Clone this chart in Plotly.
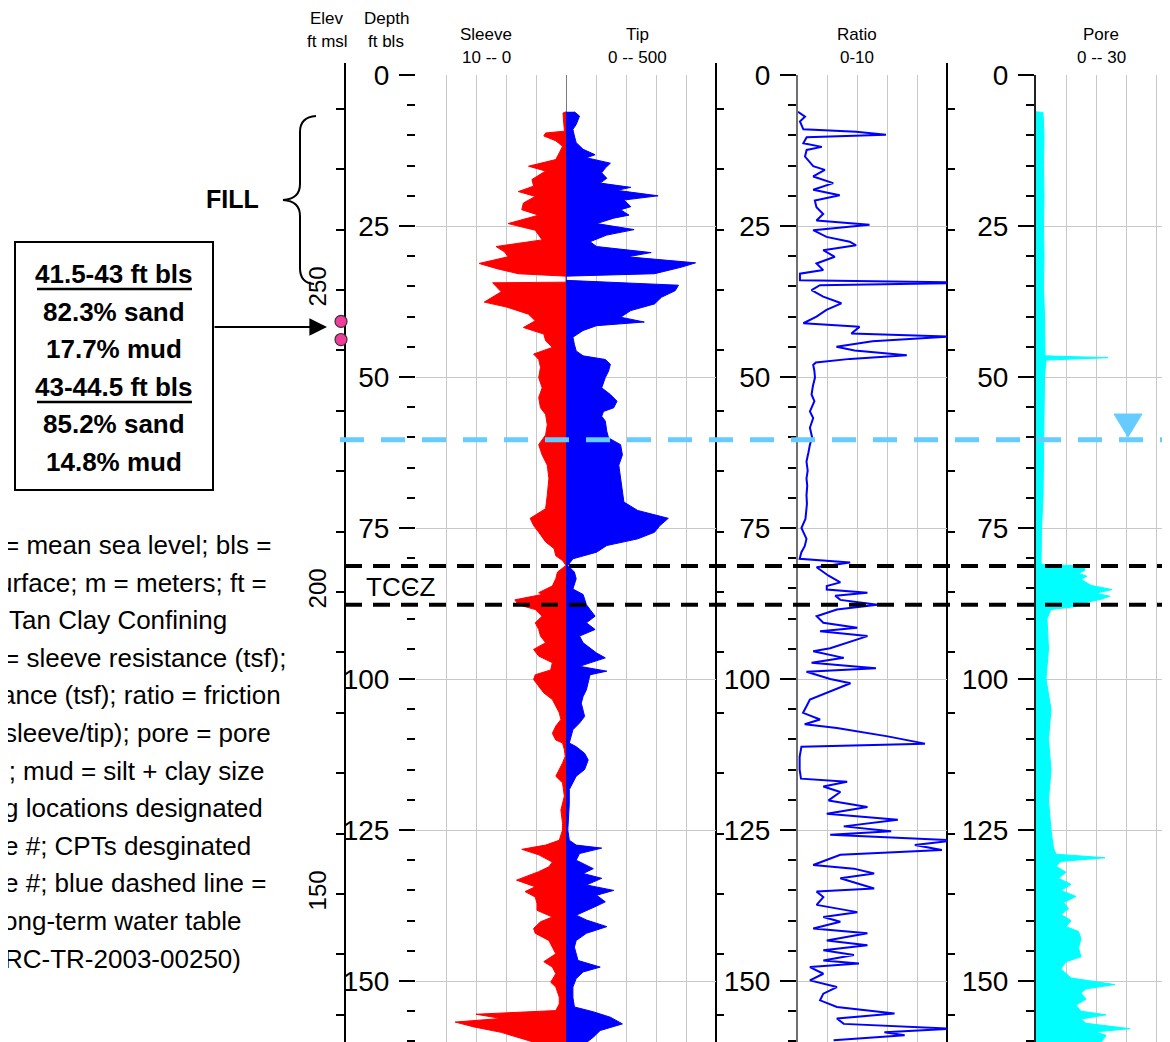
import plotly.graph_objects as go

# page body has an 8 px margin, so the figure is offset by (8, 8) in the screenshot
OX, OY = 8, 8
W, H = 1170 - OX, 1042 - OY

# ------------------------------------------------------------------ data
sleeve_depth = [6.1, 6.3, 8.0, 9.3, 9.6, 10.1, 10.9, 11.8, 12.9, 14.0, 15.1, 15.9, 17.3, 18.4, 19.3, 20.1,
                21.2, 22.3, 23.2, 24.6, 25.7, 27.3, 28.4, 29.3, 30.1, 31.2, 32.1, 32.9, 33.3, 34.3, 34.4,
                35.9, 37.6, 38.4, 39.6, 40.7, 41.8, 42.9, 44.0, 45.1, 46.2, 47.1, 48.4, 50.1, 51.8, 53.4,
                55.1, 56.2, 57.9, 59.6, 61.2, 62.9, 64.6, 66.8, 69.6, 71.8, 73.4, 74.6, 75.7, 77.3, 78.4,
                79.6, 80.4, 81.2, 82.3, 83.4, 84.6, 85.7, 86.0, 86.9, 87.7, 88.5, 89.6, 90.7, 91.8, 92.9,
                94.0, 95.1, 96.2, 97.3, 98.5, 99.3, 100.1, 101.2, 102.3, 103.4, 104.5, 105.6, 106.7, 107.8,
                109.0, 110.1, 110.6, 111.7, 112.8, 113.9, 116.1, 117.2, 119.4, 121.7, 123.9, 125.0, 126.7,
                127.5, 128.2, 129.1, 130.3, 131.1, 131.9, 133.3, 134.4, 135.2, 136.1, 137.2, 138.3, 139.4,
                140.2, 141.3, 142.1, 143.3, 144.4, 145.5, 146.8, 147.7, 148.8, 150.2, 151.0, 152.7, 153.8,
                154.9, 155.5, 156.2, 156.8, 157.6, 158.5, 159.3, 160.2]
sleeve_tsf = [0.0, 0.2, 0.15, 0.1, 1.36, 1.48, 0.68, 0.23, 0.45, 0.68, 2.5, 1.36, 2.27, 2.16, 3.18, 2.05,
              2.84, 2.95, 1.82, 3.86, 2.05, 1.59, 4.66, 4.09, 3.86, 5.8, 4.55, 3.18, 0.0, 0.0, 4.89,
              4.32, 5.45, 3.98, 2.5, 2.05, 2.84, 1.48, 1.36, 0.91, 2.16, 1.82, 1.7, 1.82, 1.59, 1.82,
              1.7, 1.36, 1.25, 1.36, 1.82, 1.59, 1.25, 1.14, 1.25, 1.36, 2.39, 2.16, 1.82, 1.36, 0.8,
              0.68, 0.23, 0.0, 0.57, 0.68, 0.91, 1.82, 1.59, 3.41, 3.18, 2.05, 1.59, 2.05, 1.82, 1.7,
              1.36, 2.16, 1.82, 0.91, 1.02, 2.05, 2.16, 1.82, 1.48, 0.91, 0.68, 0.45, 0.34, 0.68,
              0.91, 0.68, 0.23, 0.11, 0.05, 0.23, 0.68, 0.23, 0.11, 0.34, 0.23, 0.23, 0.45,
              1.36, 2.95, 1.82, 0.91, 1.14, 1.82, 3.3, 2.05, 2.73, 2.05, 1.93, 1.93, 0.91,
              1.7, 2.16, 2.05, 1.14, 0.91, 0.68, 1.48, 0.91, 0.68, 1.02, 0.68, 0.45, 0.45,
              0.68, 6.0, 4.32, 7.39, 6.14, 4.32, 3.18, 2.05]

tip_depth = [6.1, 6.8, 8.2, 9.0, 10.1, 11.2, 12.3, 13.2, 13.7, 14.6, 15.4, 16.2, 17.1, 17.9, 18.6, 19.1,
             20.0, 20.7, 21.8, 22.3, 23.2, 23.7, 24.6, 25.6, 26.5, 27.6, 28.4, 29.4, 30.1, 31.1, 31.8,
             32.9, 33.3, 34.0, 34.8, 35.7, 36.8, 37.9, 39.0, 40.1, 40.9, 41.5, 42.3, 43.4, 44.6, 45.7,
             46.5, 47.1, 47.9, 49.0, 50.1, 51.8, 52.9, 54.0, 55.1, 55.7, 56.5, 57.3, 59.0, 60.1, 61.2,
             62.9, 64.6, 66.8, 68.4, 70.7, 72.1, 73.4, 74.6, 75.7, 76.8, 77.9, 79.0, 80.1, 81.2, 82.3,
             83.4, 85.1, 86.0, 87.7, 88.5, 89.6, 90.7, 91.8, 92.9, 94.0, 95.7, 96.5, 97.9, 98.7, 99.3,
             100.7, 101.8, 102.9, 104.0, 106.2, 107.3, 108.4, 109.5, 110.6, 111.2, 112.3, 113.4, 115.0,
             116.1, 117.2, 118.3, 120.6, 123.9, 125.0, 126.7, 127.5, 128.0, 128.9, 130.0, 131.4, 132.2,
             133.0, 134.1, 135.0, 135.8, 136.9, 137.7, 139.1, 139.9, 141.0, 142.1, 143.3, 144.4, 145.5,
             146.6, 147.7, 148.5, 149.6, 151.0, 152.7, 154.3, 155.1, 156.0, 157.1, 158.2, 159.3, 160.2]
tip_tsf = [28, 45, 34, 23, 28, 34, 57, 97, 68, 148, 131, 119, 136, 114, 216, 170,
           307, 193, 216, 182, 210, 159, 102, 227, 136, 80, 102, 284, 205, 432, 386,
           295, 0, 0, 375, 364, 318, 295, 216, 182, 261, 102, 57, 23, 28, 34,
           57, 131, 148, 142, 131, 119, 148, 170, 159, 125, 119, 131, 136, 142, 182,
           188, 176, 182, 188, 193, 239, 341, 313, 295, 239, 136, 102, 23, 6, 28,
           34, 23, 57, 68, 80, 97, 68, 97, 45, 57, 102, 131, 45, 136, 80,
           74, 68, 57, 51, 62, 45, 23, 17, 11, 34, 62, 74, 62,
           34, 23, 11, 11, 6, 6, 11, 34, 119, 45, 34, 91, 57,
           119, 68, 159, 102, 131, 97, 34, 68, 136, 68, 34, 28, 34,
           40, 114, 57, 34, 23, 23, 28, 91, 148, 188, 114, 91, 68]

ratio_depth = [6.1, 6.9, 7.7, 9.0, 9.4, 9.9, 10.3, 11.3, 11.9, 12.4, 13.5, 15.1, 15.7, 16.8, 17.9, 19.0,
               19.9, 20.8, 21.9, 23.0, 24.1, 24.8, 25.7, 26.8, 27.6, 28.2, 29.0, 30.1, 31.2, 32.3, 32.9,
               34.0, 34.4, 34.8, 35.6, 36.7, 37.8, 38.9, 40.0, 41.1, 41.7, 42.8, 43.3, 44.1, 45.0, 45.6,
               46.4, 47.0, 47.6, 48.0, 49.0, 50.1, 51.5, 52.9, 54.0, 55.7, 56.8, 58.4, 60.0, 61.2, 62.5,
               64.0, 65.5, 66.8, 68.0, 69.6, 71.0, 72.3, 73.5, 75.0, 76.0, 76.8, 78.0, 79.0, 80.1, 80.7,
               81.5, 82.9, 84.0, 84.6, 85.2, 85.7, 86.2, 86.9, 87.7, 88.5, 89.6, 90.7, 91.5, 92.1, 92.9,
               93.8, 94.9, 95.4, 96.5, 97.3, 98.2, 98.8, 100.0, 100.7, 101.8, 103.4, 104.5, 105.6, 106.7,
               107.5, 108.1, 109.5, 110.7, 111.2, 112.9, 115.0, 116.5, 117.0, 117.8, 118.7, 120.1, 121.2,
               122.3, 123.3, 124.4, 125.2, 125.8, 126.7, 127.5, 128.3, 129.1, 130.0, 130.8, 131.4, 132.2,
               133.0, 133.8, 134.7, 135.2, 136.1, 137.4, 138.6, 139.4, 140.2, 141.3, 142.1, 143.3, 144.1,
               144.9, 145.7, 146.6, 147.1, 147.7, 148.8, 149.9, 151.0, 152.1, 153.2, 154.3, 155.4, 156.2,
               157.1, 157.9, 158.5, 159.0, 159.8]
ratio_pct = [0.0, 0.47, 0.13, 0.36, 3.9, 5.9, 0.58, 0.36, 1.6, 0.58, 0.47, 1.02, 1.8, 1.02, 2.36, 1.02,
             2.8, 1.13, 1.24, 1.69, 1.24, 4.8, 1.02, 1.91, 3.47, 3.9, 1.69, 2.47, 1.24, 1.69, 0.13,
             0.13, 12.0, 1.47, 0.91, 1.69, 2.91, 1.91, 1.24, 0.36, 4.13, 3.58, 10.3, 5.0, 2.58, 3.8,
             7.3, 3.5, 1.2, 1.02, 1.1, 1.14, 1.0, 0.91, 1.1, 0.8, 1.02, 0.8, 0.95, 0.8, 0.7,
             0.57, 0.65, 0.57, 0.62, 0.57, 0.6, 0.57, 0.5, 0.23, 0.45, 0.57, 0.45, 0.23, 0.11, 3.5,
             1.25, 2.05, 2.84, 1.93, 1.93, 4.66, 2.5, 2.84, 5.34, 2.61, 1.25, 1.7, 3.98, 1.48, 4.66,
             3.52, 2.16, 1.02, 3.07, 0.91, 5.23, 0.57, 2.16, 3.52, 2.39, 0.8, 0.57, 0.34, 1.48,
             0.45, 2.61, 6.02, 8.52, 0.23, 0.11, 0.11, 0.2, 3.3, 1.7, 2.84, 2.05, 4.66,
             1.93, 6.7, 3.07, 6.25, 2.16, 10.5, 7.84, 9.66, 2.84, 1.93, 1.02, 3.75, 5.11,
             2.84, 3.98, 5.11, 1.25, 1.7, 1.25, 3.98, 1.7, 2.84, 1.02, 4.66, 1.93, 4.66,
             1.7, 3.75, 1.7, 4.09, 0.8, 1.7, 0.8, 2.61, 1.7, 1.48, 2.61, 6.48, 2.61,
             3.07, 10.5, 5.8, 7.16, 2.39]

pore_depth = [6.1, 6.2, 10, 15, 20, 25, 30, 35, 40, 46.5, 46.8, 47.2, 50, 55, 60, 65, 70, 75, 80, 81.0,
              81.3, 82.0, 82.5, 83.0, 83.5, 84.0, 84.5, 85.2, 85.8, 86.3, 86.8, 87.5, 88.0, 88.5, 90,
              95, 100, 105, 110, 115, 120, 125, 128, 129.0, 129.6, 130.2, 131, 132, 133, 134, 135, 136,
              137, 138, 139, 140, 141, 141.8, 143, 144.5, 146, 146.8, 148, 149.5, 150.6, 151.3, 152,
              153, 154, 155, 155.6, 156.3, 157, 157.9, 158.4, 159, 160.2]
pore_tsf = [0, 1.4, 1.6, 1.5, 1.6, 1.5, 1.6, 1.5, 1.7, 1.8, 14.4, 2.0, 1.7, 1.6, 1.6, 1.5, 1.4, 1.1, 1.0, 1.0,
            9.5, 9.8, 8.5, 10.2, 9.0, 10.0, 11.0, 15.2, 12.0, 14.8, 13.0, 9.0, 8.1, 3.0, 2.2,
            2.5, 2.0, 3.0, 2.5, 3.0, 2.5, 3.0, 3.5, 4.0, 13.8, 5.0, 4.0, 6.0, 4.5, 7.0, 5.0, 8.0,
            5.5, 6.5, 5.0, 7.0, 6.0, 8.5, 9.0, 8.5, 9.0, 6.0, 5.0, 7.0, 15.8, 10.0, 9.0,
            10.0, 8.0, 9.0, 14.0, 9.0, 10.0, 18.8, 12.0, 14.0, 13.0]

GROUND_ELEV = 285.6          # ft msl at 0 ft bls
WATER_TABLE_DEPTH = 60.4     # ft bls
TCCZ_TOP, TCCZ_BASE = 81.3, 87.7
SAMPLE_DEPTHS = [40.8, 43.8]
DEPTH_MAX = 160.1
ELEV_LABELS = [250, 200, 150]

box_lines = ["41.5-43 ft bls", "82.3% sand", "17.7% mud", "43-44.5 ft bls", "85.2% sand", "14.8% mud"]
note_lines = ["= mean sea level; bls =", "urface; m = meters; ft =", "Tan Clay Confining",
              "= sleeve resistance (tsf);", "ance (tsf); ratio = friction", "sleeve/tip); pore = pore",
              "); mud = silt + clay size", "g locations designated", "e #; CPTs desginated",
              "e #; blue dashed line =", "ong-term water table", "RC-TR-2003-00250)"]

# ------------------------------------------------------------------ helpers (screen px -> paper)
def px(x):
    return (x - OX) / W


def py(y):
    return 1 - (y - OY) / H


SANS = "Liberation Sans, Arial, sans-serif"
GRID = "#c8c8c8"
Y_TOP = py(75)
ydom = [max(0.0, py(1042)), Y_TOP]

fig = go.Figure()

fig.add_trace(go.Scatter(x=sleeve_tsf, y=sleeve_depth, xaxis="x", yaxis="y", mode="lines",
                         fill="tozerox", fillcolor="#ff0000", line=dict(color="#ff0000", width=1),
                         hoverinfo="skip", showlegend=False))
fig.add_trace(go.Scatter(x=tip_tsf, y=tip_depth, xaxis="x2", yaxis="y", mode="lines",
                         fill="tozerox", fillcolor="#0000ff", line=dict(color="#0000ff", width=1),
                         hoverinfo="skip", showlegend=False))
fig.add_trace(go.Scatter(x=ratio_pct, y=ratio_depth, xaxis="x3", yaxis="y2", mode="lines",
                         line=dict(color="#0000ff", width=2), hoverinfo="skip", showlegend=False))
fig.add_trace(go.Scatter(x=pore_tsf, y=pore_depth, xaxis="x4", yaxis="y3", mode="lines",
                         fill="tozerox", fillcolor="#00ffff", line=dict(color="#00ffff", width=1),
                         hoverinfo="skip", showlegend=False))
# invisible carriers so that the elevation axes are drawn
sample_elev = [GROUND_ELEV - d for d in SAMPLE_DEPTHS]
for ya in ("y4", "y5", "y6"):
    fig.add_trace(go.Scatter(x=[0, 0], y=sample_elev, xaxis="x", yaxis=ya, mode="markers",
                             marker=dict(opacity=0, size=1), hoverinfo="skip", showlegend=False))

xcommon = dict(showgrid=True, gridcolor=GRID, gridwidth=1, showticklabels=False, ticks="",
               zeroline=False, showline=False, fixedrange=True)
pore_max = 30 * (1170 - 1036) / 150.0
fig.update_layout(
    xaxis=dict(domain=[px(416), px(566)], range=[10, 0], dtick=2, anchor="y", **xcommon),
    xaxis2=dict(domain=[px(566), px(716)], range=[0, 500], dtick=100, anchor="y", **xcommon),
    xaxis3=dict(domain=[px(798), px(947)], range=[0, 10], dtick=2, anchor="y2", **xcommon),
    xaxis4=dict(domain=[px(1036), 1.0], range=[0, pore_max], dtick=6, anchor="y3", **xcommon),
)

ycommon = dict(domain=ydom, range=[DEPTH_MAX, 0], tickvals=[0, 25, 50, 75, 100, 125, 150],
               showgrid=True, gridcolor=GRID, gridwidth=1, zeroline=False,
               ticks="outside", ticklen=16, tickwidth=2, tickcolor="black",
               ticklabelstandoff=4,
               tickfont=dict(family=SANS, size=28, color="black"),
               minor=dict(dtick=5, ticks="outside", ticklen=8, tickwidth=2, tickcolor="black",
                          showgrid=False),
               fixedrange=True)
fig.update_layout(
    yaxis=dict(anchor="x", showline=False, **ycommon),
    yaxis2=dict(anchor="x3", showline=True, linecolor="#707070", linewidth=2, **ycommon),
    yaxis3=dict(anchor="x4", showline=True, linecolor="#222222", linewidth=2, **ycommon),
)

elev_range = [GROUND_ELEV - DEPTH_MAX, GROUND_ELEV]
elev_ticks = list(range(130, 290, 10))
elev_text = [str(v) if v in ELEV_LABELS else "" for v in elev_ticks]
fig.update_layout(
    yaxis4=dict(overlaying="y", anchor="free", position=px(345), side="left", range=elev_range,
                tickvals=elev_ticks, ticktext=elev_text, tickangle=-90, ticks="outside", ticklen=8,
                tickwidth=2, tickcolor="black", showgrid=False, zeroline=False, showline=True,
                linecolor="black", linewidth=2, tickfont=dict(family=SANS, size=24, color="black"),
                fixedrange=True),
    yaxis5=dict(overlaying="y", anchor="free", position=px(716), side="right", range=elev_range,
                tickvals=elev_ticks, showticklabels=False, ticks="outside", ticklen=7, tickwidth=2,
                tickcolor="black", showgrid=False, zeroline=False, showline=True, linecolor="black",
                linewidth=2, fixedrange=True),
    yaxis6=dict(overlaying="y", anchor="free", position=px(947), side="right", range=elev_range,
                tickvals=elev_ticks, showticklabels=False, ticks="outside", ticklen=7, tickwidth=2,
                tickcolor="black", showgrid=False, zeroline=False, showline=True, linecolor="black",
                linewidth=2, fixedrange=True),
)

shapes = []
# sleeve/tip centre line
shapes.append(dict(type="line", xref="x2", yref="y", x0=0, x1=0, y0=0, y1=DEPTH_MAX,
                   line=dict(color="#7a7a7a", width=2), layer="below"))
# top extensions of the elevation lines
for xp in (345, 716, 947):
    shapes.append(dict(type="line", xref="paper", yref="paper", x0=px(xp), x1=px(xp),
                       y0=py(63), y1=Y_TOP, line=dict(color="black", width=2)))
# water table
shapes.append(dict(type="line", xref="paper", yref="y", x0=px(340), x1=1.0,
                   y0=WATER_TABLE_DEPTH, y1=WATER_TABLE_DEPTH,
                   line=dict(color="#66ccff", width=5, dash="24px,17px"), layer="above"))
# TCCZ boundaries
for d in (TCCZ_TOP, TCCZ_BASE):
    shapes.append(dict(type="line", xref="paper", yref="y", x0=px(345), x1=1.0, y0=d, y1=d,
                       line=dict(color="black", width=4, dash="17px,11px"), layer="above"))
# water table triangle
tri = "M {} {} L {} {} L {} {} Z".format(px(1114), py(414), px(1142), py(414), px(1128), py(437))
shapes.append(dict(type="path", xref="paper", yref="paper", path=tri, fillcolor="#66ccff",
                   line=dict(color="#66ccff", width=1)))
# sample dots
for d in SAMPLE_DEPTHS:
    shapes.append(dict(type="circle", xref="paper", yref="y", x0=px(335), x1=px(347),
                       y0=d - 1.0, y1=d + 1.0, fillcolor="#ee3d9a", line=dict(color="#333", width=1.2)))
# text box and underlines
shapes.append(dict(type="rect", xref="paper", yref="paper", x0=px(15), x1=px(213), y0=py(242),
                   y1=py(490), line=dict(color="black", width=2)))
for yy in (289, 402):
    shapes.append(dict(type="line", xref="paper", yref="paper", x0=px(37), x1=px(192), y0=py(yy),
                       y1=py(yy), line=dict(color="black", width=2.5)))


def P(x, y):
    return "{:.5f},{:.5f}".format(px(x), py(y))


brace = ("M " + P(316, 116) + " Q " + P(300, 117) + " " + P(300, 132) + " L " + P(300, 184) +
         " Q " + P(300, 199) + " " + P(283, 200) + " Q " + P(300, 201) + " " + P(300, 216) +
         " L " + P(300, 268) + " Q " + P(300, 283) + " " + P(314, 284))
shapes.append(dict(type="path", xref="paper", yref="paper", path=brace,
                   line=dict(color="black", width=2)))
fig.update_layout(shapes=shapes)

ann = []


def txt(t, x, y, size=17, anchor="center", bold=False):
    ann.append(dict(text=("<b>%s</b>" % t) if bold else t, x=px(x), y=py(y), xref="paper",
                    yref="paper", showarrow=False, xanchor=anchor, yanchor="middle",
                    font=dict(family=SANS, size=size, color="black")))


for t, x, y in [("Elev", 327, 19), ("ft msl", 327, 42), ("Depth", 386, 19), ("ft bls", 386, 42),
                ("Sleeve", 486, 34), ("10 -- 0", 486, 58), ("Tip", 637, 34), ("0 -- 500", 637, 58),
                ("Ratio", 857, 34), ("0-10", 857, 58), ("Pore", 1101, 34), ("0 -- 30", 1101, 58)]:
    txt(t, x, y, size=17)

txt("FILL", 232, 199, size=25, bold=True)
txt("TCCZ", 400, 587, size=26)
for i, t in enumerate(box_lines):
    txt(t, 114, 274 + i * 37.6, size=26, bold=True)

note_x = [2, -4, 7, 2, -1, 2, -2, 2, 2, 2, 1, 2]
for i, t in enumerate(note_lines):
    txt(t, note_x[i], 545 + i * 37.6, size=26, anchor="left")

# arrow from box to the sample depth
ann.append(dict(x=px(327), y=py(327), xref="paper", yref="paper", ax=-114, ay=0, text="",
                showarrow=True, arrowhead=2, arrowsize=1.6, arrowwidth=2.2, arrowcolor="black"))
fig.update_layout(annotations=ann)

fig.update_layout(width=W, height=H, margin=dict(l=0, r=0, t=0, b=0, autoexpand=False),
                  paper_bgcolor="white", plot_bgcolor="white", showlegend=False)

fig.write_html("out.html")
